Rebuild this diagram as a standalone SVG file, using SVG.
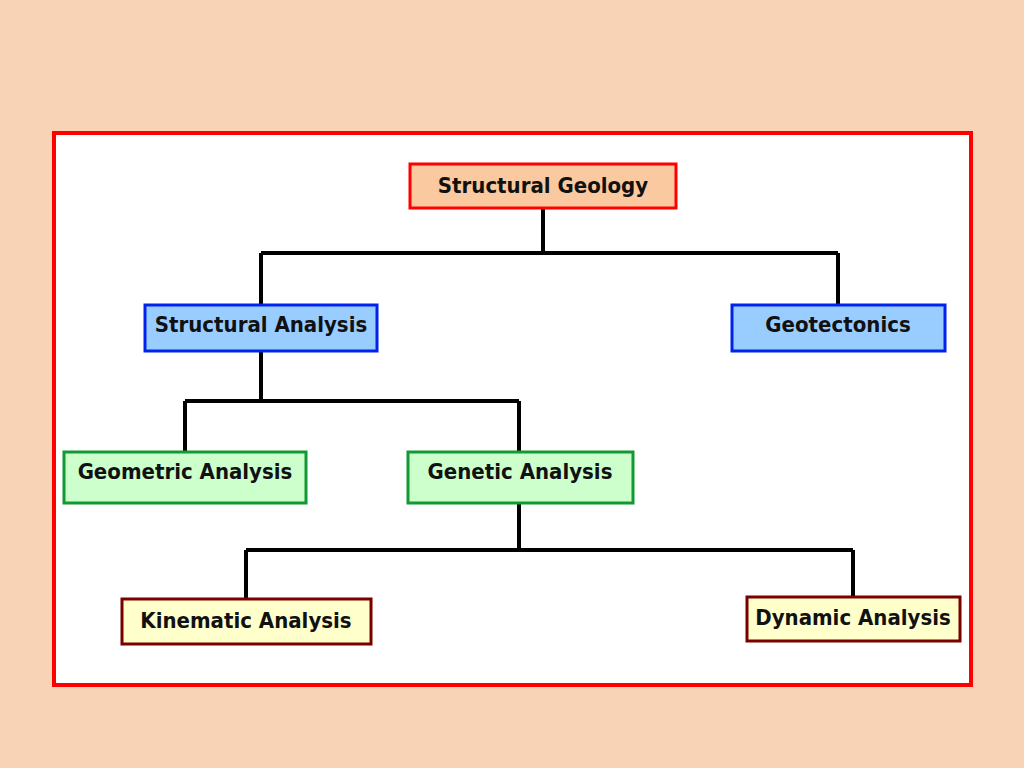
<svg xmlns="http://www.w3.org/2000/svg" width="1024" height="768" viewBox="0 0 1024 768">
<style>
text{font-family:"DejaVu Sans Condensed","Liberation Sans",sans-serif;font-weight:bold;font-size:22px;text-anchor:middle;fill:#111}
.c{stroke:#000;stroke-width:4;fill:none}
.r{fill:#FBC9A0;stroke:#F00;stroke-width:3}
.b{fill:#99CCFF;stroke:#0022EE;stroke-width:3}
.g{fill:#CCFFCC;stroke:#119933;stroke-width:3}
.y{fill:#FFFFCC;stroke:#7A0000;stroke-width:3}
</style>
<rect width="1024" height="768" fill="#F8D3B5"/>
<rect x="54" y="133" width="917" height="552" fill="#fff" stroke="#F00" stroke-width="4"/>
<g id="connectors">
<path class="c" d="M543,208V253M261,253H838M261,253V305M838,253V305"/>
<path class="c" d="M261,351V401M185,401H519M185,401V452M519,401V452"/>
<path class="c" d="M519,503V550M246,550H853M246,550V599M853,550V597"/>
</g>
<g id="n1"><rect class="r" x="410" y="164" width="266" height="44"/><text x="543" y="193">Structural Geology</text></g>
<g id="n2"><rect class="b" x="145" y="305" width="232" height="46"/><text x="261" y="332">Structural Analysis</text></g>
<g id="n3"><rect class="b" x="732" y="305" width="213" height="46"/><text x="838" y="332">Geotectonics</text></g>
<g id="n4"><rect class="g" x="64" y="452" width="242" height="51"/><text x="185" y="479">Geometric Analysis</text></g>
<g id="n5"><rect class="g" x="408" y="452" width="225" height="51"/><text x="520" y="479">Genetic Analysis</text></g>
<g id="n6"><rect class="y" x="122" y="599" width="249" height="45"/><text x="246" y="628">Kinematic Analysis</text></g>
<g id="n7"><rect class="y" x="747" y="597" width="213" height="44"/><text x="853" y="625">Dynamic Analysis</text></g>
</svg>
